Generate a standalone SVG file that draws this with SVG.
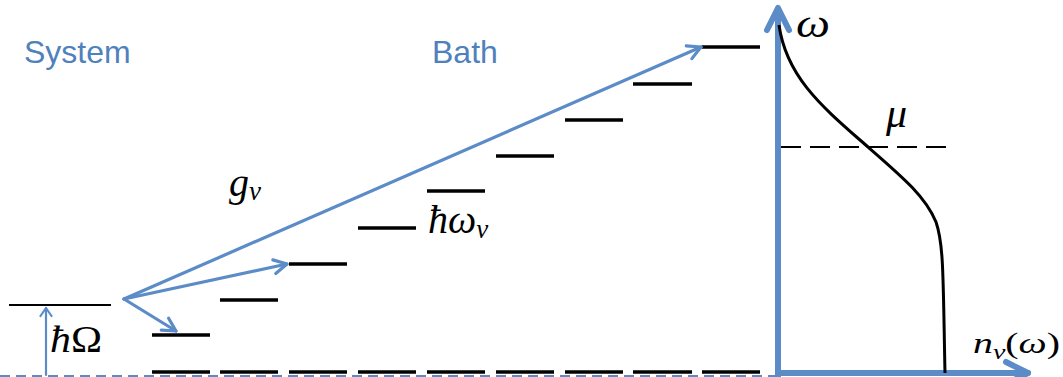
<svg xmlns="http://www.w3.org/2000/svg" width="1063" height="377" viewBox="0 0 1063 377">
<style>
.lvl{stroke:#000;stroke-width:3.5;fill:none}
.blue{stroke:#5B8CC8;fill:none;stroke-linecap:round;stroke-linejoin:round}
.title{font-family:"Liberation Sans",Arial,sans-serif;font-size:32px;fill:#4F81BD}
.math{font-family:"Liberation Serif","DejaVu Serif",serif;fill:#000}
.it{font-style:italic}
</style>
<defs>
<marker id="ah" markerUnits="userSpaceOnUse" markerWidth="20" markerHeight="20" viewBox="0 0 20 20" refX="16" refY="10" orient="auto">
<path d="M3,3 L16,10 L3,17" fill="none" stroke="#5B8CC8" stroke-width="3.2" stroke-linecap="round" stroke-linejoin="round"/>
</marker>
<marker id="ahs" markerUnits="userSpaceOnUse" markerWidth="14" markerHeight="14" viewBox="0 0 14 14" refX="11" refY="7" orient="auto">
<path d="M3,1.5 L11,7 L3,12.5" fill="none" stroke="#5B8CC8" stroke-width="2.2" stroke-linecap="round" stroke-linejoin="round"/>
</marker>
</defs>
<rect width="1063" height="377" fill="#fff"/>

<g id="labels">
<text class="title" x="24" y="63">System</text>
<text class="title" x="432" y="63">Bath</text>
</g>

<g id="ground">
<line x1="0" y1="376" x2="778" y2="376" stroke="#5B8CC8" stroke-width="2" stroke-dasharray="10 6"/>
<g class="lvl">
<line x1="152" y1="372" x2="210" y2="372"/>
<line x1="220" y1="372" x2="278" y2="372"/>
<line x1="289" y1="372" x2="347" y2="372"/>
<line x1="358" y1="372" x2="416" y2="372"/>
<line x1="427" y1="372" x2="485" y2="372"/>
<line x1="496" y1="372" x2="554" y2="372"/>
<line x1="565" y1="372" x2="623" y2="372"/>
<line x1="633" y1="372" x2="692" y2="372"/>
<line x1="702" y1="372" x2="760" y2="372"/>
</g>
</g>

<g id="system">
<line x1="9" y1="305" x2="111" y2="305" stroke="#000" stroke-width="2"/>
<line x1="46" y1="375" x2="46" y2="308" class="blue" stroke-width="2.2" marker-end="url(#ahs)"/>
<text class="math" x="50" y="352" font-size="38" textLength="52" lengthAdjust="spacingAndGlyphs"><tspan class="it">ħ</tspan>Ω</text>
</g>

<g id="bath" class="lvl">
<line x1="152" y1="335" x2="210" y2="335"/>
<line x1="220" y1="300" x2="278" y2="300"/>
<line x1="289" y1="264" x2="347" y2="264"/>
<line x1="358" y1="228" x2="416" y2="228"/>
<line x1="427" y1="191" x2="485" y2="191"/>
<line x1="496" y1="156" x2="554" y2="156"/>
<line x1="565" y1="120" x2="623" y2="120"/>
<line x1="633" y1="84" x2="692" y2="84"/>
<line x1="702" y1="47" x2="760" y2="47"/>
</g>

<g id="bath-labels">
<text class="math it" x="229" y="196" font-size="40">g<tspan font-size="27" dy="4">ν</tspan></text>
<text class="math it" x="428" y="233" font-size="40">ħω<tspan font-size="27" dy="5">ν</tspan></text>
</g>

<g id="connectors">
<line x1="124" y1="299" x2="176" y2="331" class="blue" stroke-width="3.2" marker-end="url(#ah)"/>
<line x1="124" y1="299" x2="287" y2="264" class="blue" stroke-width="3.2" marker-end="url(#ah)"/>
<line x1="124" y1="299" x2="701" y2="47" class="blue" stroke-width="3.2" marker-end="url(#ah)"/>
</g>

<g id="plot">
<line x1="778" y1="377" x2="778" y2="9" class="blue" stroke-width="6"/>
<polyline points="767,30 778,8 789,30" class="blue" stroke-width="6"/>
<line x1="778" y1="373" x2="1028" y2="373" class="blue" stroke-width="6"/>
<polyline points="1006,362 1028,373 1006,384" class="blue" stroke-width="6"/>
<line x1="781" y1="147" x2="947" y2="147" stroke="#000" stroke-width="2" stroke-dasharray="20 9"/>
<path d="M779,25 C786,75 820,105 860,140 C900,175 925,195 936,222 C944,245 943,280 945,373" fill="none" stroke="#000" stroke-width="3"/>
<text class="math it" x="796" y="37" font-size="40" textLength="34" lengthAdjust="spacingAndGlyphs">ω</text>
<text class="math it" x="886" y="127" font-size="42">μ</text>
<text class="math" x="973" y="353" font-size="30" textLength="87" lengthAdjust="spacingAndGlyphs"><tspan class="it">n</tspan><tspan class="it" font-size="21" dy="6">ν</tspan><tspan dy="-6">(</tspan><tspan class="it">ω</tspan>)</text>
</g>
</svg>
